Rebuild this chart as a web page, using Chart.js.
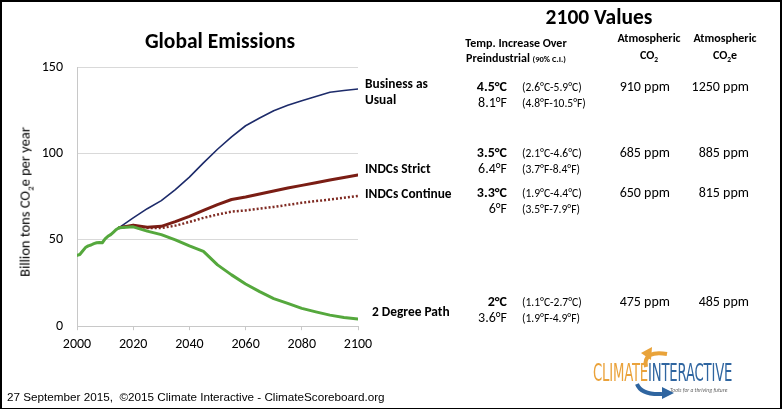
<!DOCTYPE html>
<html>
<head>
<meta charset="utf-8">
<script src="https://cdn.jsdelivr.net/npm/chart.js@4.4.1/dist/chart.umd.min.js"></script>
<style>
  html, body { margin: 0; padding: 0; background: #fff; }
  #page { position: relative; width: 782px; height: 411px; overflow: hidden; font-family: Carlito, Lato, sans-serif; color: #000; }
  #frame { position: absolute; left: 0; top: 0; width: 778px; height: 406px; border: 2px solid #000; border-bottom-width: 1px; pointer-events: none; }
  #chartBox { position: absolute; left: 0; top: 0; width: 782px; height: 411px; }
  .t { position: absolute; white-space: nowrap; line-height: 1; }
  .b { font-weight: bold; }
  .lab { font-size: 13.4px; font-weight: bold; }
  .c { font-size: 14px; font-weight: bold; text-align: right; width: 50px; }
  .f { font-size: 14px; text-align: right; width: 50px; }
  .ci { font-size: 11.5px; }
  .ppm { font-size: 14px; text-align: right; }
  .hd { font-size: 12px; font-weight: bold; text-align: center; }
  #footer { font-family: "Liberation Sans", Arial, sans-serif; font-size: 11.7px; }
  #ytitle { left: 26px; top: 202px; font-size: 14.5px; font-weight: 400; transform: translate(-50%, -50%) rotate(-90deg); }
</style>
</head>
<body>
<div id="page">
  <div id="chartBox"><canvas id="emissions"></canvas></div>

  <div class="t" id="ytitle">Billion tons CO<sub style="font-size:9px;">2</sub>e per year</div>
  <div class="t b" style="left:120px;top:31px;width:200px;text-align:center;font-size:21.5px;">Global Emissions</div>

  <div class="t lab" style="left:365px;top:76px;line-height:16px;">Business as<br>Usual</div>
  <div class="t lab" style="left:365px;top:162px;">INDCs Strict</div>
  <div class="t lab" style="left:365px;top:187px;">INDCs Continue</div>
  <div class="t lab" style="left:372px;top:305px;">2 Degree Path</div>

  <div class="t b" style="left:519px;top:7px;width:160px;text-align:center;font-size:21.5px;">2100 Values</div>
  <div class="t hd" style="left:455px;top:37px;width:122px;">Temp. Increase Over</div>
  <div class="t hd" style="left:455px;top:52px;width:122px;">Preindustrial <span style="font-size:8.5px;">(90% C.I.)</span></div>
  <div class="t hd" style="left:604px;top:32px;width:90px;">Atmospheric</div>
  <div class="t hd" style="left:604px;top:49px;width:90px;">CO<sub style="font-size:7.5px;">2</sub></div>
  <div class="t hd" style="left:680px;top:32px;width:90px;">Atmospheric</div>
  <div class="t hd" style="left:680px;top:49px;width:90px;">CO<sub style="font-size:7.5px;">2</sub>e</div>

  <div id="rows"></div>

  <svg class="t" style="left:0;top:0;" width="782" height="411">
    <path d="M667 354 Q656 352 650 355 Q644 359 646 367" fill="none" stroke="#e9a33a" stroke-width="4"/>
    <polygon points="641,353 652,347 651,360" fill="#e9a33a"/>
    <path d="M637 384 Q641 395 662 394" fill="none" stroke="#2f65a0" stroke-width="4"/>
    <polygon points="674,393 662,387 662,399" fill="#2f65a0"/>
  </svg>
  <div class="t" style="left:593px;top:361px;font-family:'DejaVu Sans Condensed','Liberation Sans Narrow',sans-serif;font-size:24.5px;transform:scaleX(0.6);transform-origin:left top;letter-spacing:-0.3px;"><span style="color:#eaa23a;">CLIMATE</span><span style="color:#2f65a0;">INTERACTIVE</span></div>
  <div class="t" style="left:670px;top:387px;font-size:6.6px;font-style:italic;color:#666;transform:scaleX(0.85);transform-origin:left top;">Tools for a thriving future</div>

  <div class="t" id="footer" style="left:7px;top:391px;">27 September 2015,&nbsp; ©2015 Climate Interactive - ClimateScoreboard.org</div>

  <div id="frame"></div>
</div>
<script>
// historical emissions (Gt CO2e/yr)
const histYears = [2000, 2001, 2002, 2003, 2004, 2005, 2006, 2007, 2008, 2009, 2010, 2011, 2012, 2013, 2014, 2015];
const histValues = [41, 41.5, 43.5, 45.5, 46.5, 47, 47.8, 48.3, 48.5, 48.3, 50.5, 52, 53, 54.5, 56, 57];

// scenario projections
const projYears = [2015, 2020, 2025, 2030, 2035, 2040, 2045, 2050, 2055, 2060, 2065, 2070, 2075, 2080, 2085, 2090, 2095, 2100];
const businessAsUsual = [57, 62.7, 68, 72.7, 79, 86.3, 94.5, 102.4, 109.6, 116, 120.5, 124.7, 127.8, 130.5, 132.9, 135.4, 136.4, 137.3];
const indcsStrict = [57, 58.5, 57.3, 57.8, 60.5, 63.6, 67, 70.4, 73.3, 74.8, 76.5, 78.2, 80, 81.5, 83, 84.6, 86, 87.5];
const indcsContinue = [57, 58.3, 56.8, 56.8, 58.2, 60.3, 62.7, 64.6, 66.3, 67, 68, 69, 70.2, 71.4, 72.4, 73.3, 74.3, 75.3];
const twoDegreePath = [57, 57.5, 55, 53, 50, 46.5, 43.3, 35.5, 29.7, 24.4, 20, 16, 13.2, 10.3, 8.3, 6.4, 5, 4.1];

const yTicks = [0, 50, 100, 150];
const xTicks = [2000, 2020, 2040, 2060, 2080, 2100];

// 2100 values table
const tempC = ['4.5°C', '3.5°C', '3.3°C', '2°C'];
const rangeC = ['(2.6°C-5.9°C)', '(2.1°C-4.6°C)', '(1.9°C-4.4°C)', '(1.1°C-2.7°C)'];
const tempF = ['8.1°F', '6.4°F', '6°F', '3.6°F'];
const rangeF = ['(4.8°F-10.5°F)', '(3.7°F-8.4°F)', '(3.5°F-7.9°F)', '(1.9°F-4.9°F)'];
const co2 = ['910 ppm', '685 ppm', '650 ppm', '475 ppm'];
const co2e = ['1250 ppm', '885 ppm', '815 ppm', '485 ppm'];
const rowTops = [80, 146, 186, 295];

function pts(xs, ys) {
    return xs.map((x, i) => ({ x: x, y: ys[i] }));
}

function buildTable() {
    const rows = document.getElementById('rows');
    let html = '';
    rowTops.forEach((top, i) => {
        html += `<div class="t c" style="left:457px;top:${top}px;">${tempC[i]}</div>`;
        html += `<div class="t ci" style="left:522px;top:${top + 2}px;">${rangeC[i]}</div>`;
        html += `<div class="t f" style="left:457px;top:${top + 16}px;">${tempF[i]}</div>`;
        html += `<div class="t ci" style="left:522px;top:${top + 18}px;">${rangeF[i]}</div>`;
        html += `<div class="t ppm" style="left:590px;width:80px;top:${top}px;">${co2[i]}</div>`;
        html += `<div class="t ppm" style="left:669px;width:80px;top:${top}px;">${co2e[i]}</div>`;
    });
    rows.innerHTML = html;
}

document.addEventListener('DOMContentLoaded', function() {
    buildTable();

    const ctx = document.getElementById('emissions').getContext('2d');
    new Chart(ctx, {
        type: 'line',
        data: {
            datasets: [
                { label: 'History', data: pts(histYears, histValues), borderColor: '#55a83d', borderWidth: 3 },
                { label: '2 Degree Path', data: pts(projYears, twoDegreePath), borderColor: '#55a83d', borderWidth: 3 },
                { label: 'INDCs Strict', data: pts(projYears, indcsStrict), borderColor: '#7a1d14', borderWidth: 3 },
                { label: 'INDCs Continue', data: pts(projYears, indcsContinue), borderColor: '#7f2a22', borderWidth: 2.5, borderDash: [2, 2], borderCapStyle: 'butt' },
                { label: 'Business as Usual', data: pts(projYears, businessAsUsual), borderColor: '#1d2b6a', borderWidth: 1.6 }
            ]
        },
        options: {
            responsive: true,
            maintainAspectRatio: false,
            animation: false,
            elements: { point: { radius: 0 }, line: { tension: 0, borderCapStyle: 'round', borderJoinStyle: 'round' } },
            layout: { padding: { left: 40, right: 424, top: 67, bottom: 52 } },
            plugins: { legend: { display: false }, tooltip: { enabled: false } },
            scales: {
                x: {
                    type: 'linear',
                    min: 2000,
                    max: 2100,
                    afterBuildTicks: s => { s.ticks = xTicks.map(v => ({ value: v })); },
                    ticks: { color: '#000', font: { family: 'Carlito, Lato', size: 14 }, padding: 6, callback: v => String(v), maxRotation: 0 },
                    grid: { drawOnChartArea: false, drawTicks: true, tickLength: 4, color: '#c8c8c8' },
                    border: { color: '#c8c8c8' }
                },
                y: {
                    min: 0,
                    max: 150,
                    afterBuildTicks: s => { s.ticks = yTicks.map(v => ({ value: v })); },
                    afterFit: s => { s.width = 37; },
                    ticks: { color: '#000', font: { family: 'Carlito, Lato', size: 14 }, padding: 14 },
                    grid: { color: '#d9d9d9', drawTicks: false },
                    border: { color: '#c8c8c8' }
                }
            }
        }
    });
});
</script>
</body>
</html>
